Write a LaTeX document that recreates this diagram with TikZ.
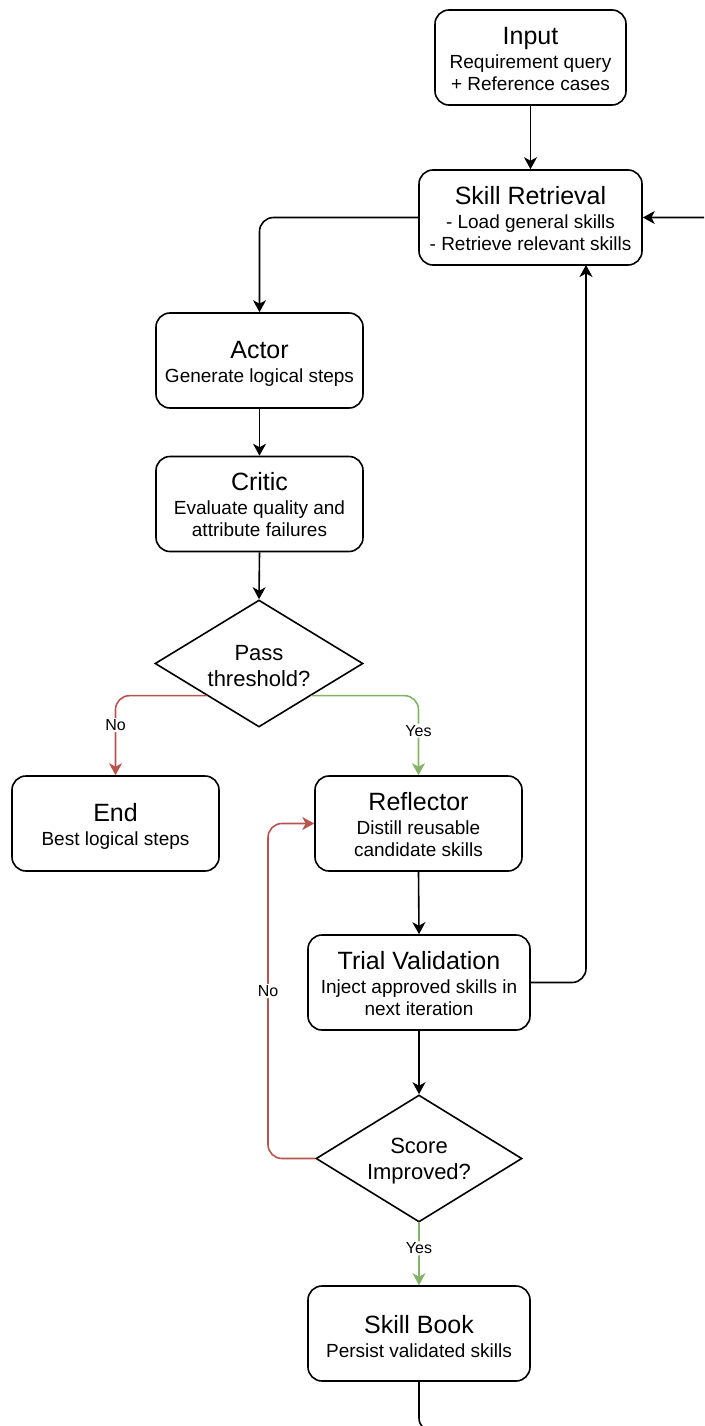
\documentclass[tikz,border=0pt]{standalone}
\usepackage{fontspec}
\setmainfont{Liberation Sans}
\usetikzlibrary{shapes.geometric,arrows.meta}
\newcommand\titf{\fontsize{25}{26}\selectfont}
\newcommand\subf{\fontsize{19}{22}\selectfont}
\newcommand\dmf{\fontsize{22}{26}\selectfont}
\newcommand\lblf{\fontsize{16}{18}\selectfont}
\definecolor{redline}{HTML}{B85450}
\definecolor{greenline}{HTML}{82B366}
\tikzset{
  box/.style={draw, line width=1.6pt, rounded corners=14pt, inner sep=0pt,
    minimum height=95pt, fill=white},
  bt/.style={align=center, font=\subf, inner sep=0pt},
  dt/.style={align=center, font=\dmf, inner sep=0pt},
  dia/.style={draw, diamond, line width=1.6pt, inner sep=0pt, aspect=1.64,
    minimum height=127pt},
  conn/.style={line width=1.6pt, rounded corners=14pt,
    -{Stealth[length=12pt,width=13pt,inset=3.5pt]}},
  nconn/.style={conn, draw=redline},
  yconn/.style={conn, draw=greenline},
  lbl/.style={fill=white, inner sep=1.5pt, font=\lblf, text=black},
}
\begin{document}
\begin{tikzpicture}[x=1pt,y=-1pt]
\useasboundingbox (0,0) rectangle (704,1426);
\clip (0,0) rectangle (704,1426);

\node[box, minimum width=191pt,
  label={[bt, yshift=-1pt]center:{{\titf Input}\\[2pt]Requirement query\\+ Reference cases}}]
  (input) at (530.5,57.5) {};
\node[box, minimum width=223pt,
  label={[bt, yshift=-1pt]center:{{\titf Skill Retrieval}\\[2pt]- Load general skills\\- Retrieve relevant skills}}]
  (sr) at (530.5,217.5) {};
\node[box, minimum width=207pt,
  label={[bt, yshift=-3pt]center:{{\titf Actor}\\[2pt]Generate logical steps}}]
  (actor) at (259.5,360.5) {};
\node[box, minimum width=207pt,
  label={[bt, yshift=-1pt]center:{{\titf Critic}\\[2pt]Evaluate quality and\\attribute failures}}]
  (critic) at (259.5,504) {};
\node[dia, minimum width=208pt,
  label={[dt, yshift=-3pt]center:{Pass\\threshold?}}]
  (pass) at (259,663.5) {};
\node[box, minimum width=207pt,
  label={[bt, yshift=-3pt]center:{{\titf End}\\[2pt]Best logical steps}}]
  (end) at (115.5,823.5) {};
\node[box, minimum width=207pt,
  label={[bt, yshift=-1pt]center:{{\titf Reflector}\\[2pt]Distill reusable\\candidate skills}}]
  (refl) at (418.5,823.5) {};
\node[box, minimum width=222pt,
  label={[bt, yshift=-1.5pt]center:{{\titf Trial Validation}\\[2pt]Inject approved skills in\\next iteration}}]
  (trial) at (419,982.5) {};
\node[dia, minimum width=206pt,
  label={[dt, yshift=-3pt]center:{Score\\Improved?}}]
  (score) at (419,1158.5) {};
\node[box, minimum width=222pt,
  label={[bt, yshift=-3pt]center:{{\titf Skill Book}\\[2pt]Persist validated skills}}]
  (sb) at (419,1333.5) {};

\coordinate (srin) at (586,265);
\coordinate (nb1) at (268,1158.5);
\coordinate (nb2) at (268,823.5);
\coordinate (lp1) at (419,1432);
\coordinate (lp2) at (740,1432);
\coordinate (lp3) at (740,217.5);

\draw[conn] (input.south) -- (sr.north);
\draw[conn] (sr.west) -| (actor.north);
\draw[conn] (actor.south) -- (critic.north);
\draw[conn] (critic.south) -- (pass.north);
\draw[nconn] (pass.south west) -| node[lbl, pos=0.685]{No} (end.north);
\draw[yconn] (pass.south east) -| node[lbl, pos=0.72]{Yes} (refl.north);
\draw[conn] (refl.south) -- (trial.north);
\draw[conn] (trial.east) -| (srin);
\draw[conn] (trial.south) -- (score.north);
\draw[nconn] (score.west) -- (nb1) -- node[lbl]{No} (nb2) -- (refl.west);
\draw[yconn] (score.south) -- node[lbl, pos=0.41]{Yes} (sb.north);
\draw[conn] (sb.south) -- (lp1) -- (lp2) -- (lp3) -- (sr.east);
\end{tikzpicture}
\end{document}
